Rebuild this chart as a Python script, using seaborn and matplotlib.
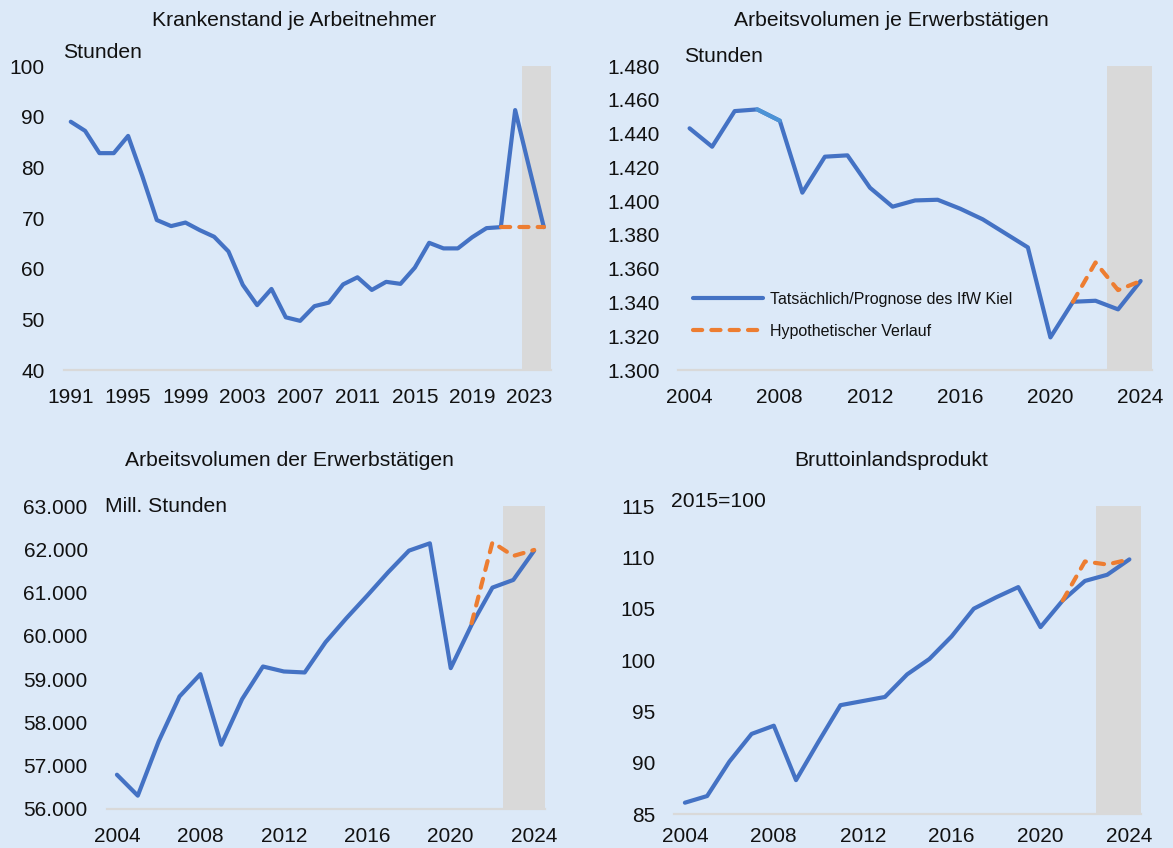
import numpy as np
import pandas as pd
import matplotlib
matplotlib.use("Agg")
import matplotlib.pyplot as plt
import seaborn as sns
from matplotlib.ticker import FuncFormatter

# ---------------- data ----------------
years_kr = list(range(1991, 2025))
krankenstand = [89.0, 87.2, 82.8, 82.8, 86.2, 78.2, 69.6, 68.4, 69.1, 67.6,
                66.3, 63.4, 56.8, 52.8, 56.0, 50.4, 49.7, 52.6, 53.3, 56.9,
                58.3, 55.8, 57.4, 57.0, 60.2, 65.1, 64.0, 64.0, 66.2, 68.0,
                68.2, 91.3, 79.7, 68.2]
hyp_years = [2021, 2022, 2023, 2024]
krankenstand_hyp = [68.2, 68.2, 68.2, 68.2]

years = list(range(2004, 2025))
av_je_erw = [1443.1, 1432.2, 1453.3, 1454.3, 1447.6, 1405.0, 1426.3, 1427.1,
             1407.9, 1396.7, 1400.4, 1400.8, 1395.5, 1389.2, 1380.9, 1372.6,
             1319.3, 1340.4, 1341.0, 1335.9, 1352.7]
av_je_erw_hyp = [1340.4, 1363.7, 1347.3, 1352.7]

av_gesamt = [56792, 56308, 57562, 58600, 59115, 57485, 58538, 59292, 59177,
             59154, 59854, 60408, 60931, 61469, 61969, 62138, 59254, 60254,
             61115, 61292, 61969]
av_gesamt_hyp = [60292, 62162, 61846, 61985]

bip = [86.1, 86.75, 90.1, 92.8, 93.6, 88.3, 92.0, 95.6, 96.0, 96.4, 98.6,
       100.1, 102.3, 105.0, 106.1, 107.1, 103.2, 105.8, 107.7, 108.3, 109.8]
bip_hyp = [105.8, 109.6, 109.3, 109.8]

titles = ["Krankenstand je Arbeitnehmer", "Arbeitsvolumen je Erwerbstätigen",
          "Arbeitsvolumen der Erwerbstätigen", "Bruttoinlandsprodukt"]
units = ["Stunden", "Stunden", "Mill. Stunden", "2015=100"]
legend_labels = ["Tatsächlich/Prognose des IfW Kiel", "Hypothetischer Verlauf"]
band = (2022.5, 2024.5)

# ---------------- style ----------------
sns.set_theme(style="white")
BG = "#DCE9F8"
BLUE = "#4472C4"
LIGHTBLUE = "#4C93D6"
ORANGE = "#ED7D31"
GREY = "#D9D9D9"
plt.rcParams["font.family"] = ["Liberation Sans", "DejaVu Sans"]
plt.rcParams["text.color"] = "#111111"

W, H = 1173, 848
fig = plt.figure(figsize=(W / 100, H / 100), dpi=100)
fig.patch.set_facecolor(BG)


def add_ax(left, right, top, bottom):
    return fig.add_axes([left / W, 1 - bottom / H, (right - left) / W, (bottom - top) / H])


def thousands(v, pos):
    return f"{int(round(v)):,}".replace(",", ".")


def style_ax(ax, x0, x1, ylim, yticks, xticks, fmt=None, xpad=13):
    ax.set_facecolor(BG)
    ax.axvspan(band[0], band[1], color=GREY, lw=0, zorder=0)
    ax.set_xlim(x0 - 0.5, x1 + 0.5)
    ax.set_ylim(*ylim)
    ax.set_yticks(yticks)
    ax.set_xticks(xticks)
    if fmt is not None:
        ax.yaxis.set_major_formatter(FuncFormatter(fmt))
    for s in ["top", "right", "left"]:
        ax.spines[s].set_visible(False)
    ax.spines["bottom"].set_color(GREY)
    ax.spines["bottom"].set_linewidth(1.6)
    ax.spines["bottom"].set_zorder(0.5)
    ax.tick_params(axis="both", length=0, labelsize=15, colors="#111111")
    ax.tick_params(axis="y", pad=13.5)
    ax.tick_params(axis="x", pad=xpad)
    ax.set_xlabel("")
    ax.set_ylabel("")
    ax.grid(False)


def draw(ax, xs, ys, hx, hy, label=True):
    sns.lineplot(x=xs, y=ys, ax=ax, color=BLUE, lw=3.0,
                 label=legend_labels[0] if label else None, zorder=3)
    ax.lines[-1].set_solid_capstyle("round")
    sns.lineplot(x=hx, y=hy, ax=ax, color=ORANGE, lw=3.0,
                 label=legend_labels[1] if label else None, zorder=4)
    ln = ax.lines[-1]
    ln.set_dashes((2.2, 2.2))
    ln.set_dash_capstyle("round")


# Panel 1
ax1 = add_ax(63.6, 551, 66, 370)
draw(ax1, years_kr, krankenstand, hyp_years, krankenstand_hyp, label=False)
style_ax(ax1, 1991, 2024, (40, 100), range(40, 101, 10), range(1991, 2024, 4))

# Panel 2
ax2 = add_ax(678.3, 1151.9, 66, 370)
draw(ax2, years, av_je_erw, hyp_years, av_je_erw_hyp, label=True)
sns.lineplot(x=years[3:5], y=av_je_erw[3:5], ax=ax2, color=LIGHTBLUE, lw=3.0, zorder=3.5)
style_ax(ax2, 2004, 2024, (1300, 1480), range(1300, 1481, 20), range(2004, 2025, 4), thousands)
leg = ax2.legend(loc="upper left", bbox_to_anchor=(693 / W, 1 - 292 / H),
                 bbox_transform=fig.transFigure, frameon=False, fontsize=11.5,
                 handlelength=4.4, handletextpad=0.4, labelspacing=1.05,
                 borderaxespad=0, borderpad=0)
for h in leg.get_lines():
    h.set_linewidth(3.0)
leg.get_lines()[1].set_dashes((2.2, 2.2))
leg.get_lines()[1].set_dash_capstyle("round")

# Panel 3
ax3 = add_ax(106.5, 544.6, 506, 809)
draw(ax3, years, av_gesamt, hyp_years, av_gesamt_hyp, label=False)
style_ax(ax3, 2004, 2024, (56000, 63000), range(56000, 63001, 1000), range(2004, 2025, 4), thousands)

# Panel 4
ax4 = add_ax(673.8, 1140.5, 506, 814)
draw(ax4, years, bip, hyp_years, bip_hyp, label=False)
style_ax(ax4, 2004, 2024, (85, 115), range(85, 116, 5), range(2004, 2025, 4), xpad=9.5)

for ax in (ax1, ax3, ax4):
    if ax.get_legend() is not None:
        ax.get_legend().remove()

# titles and unit labels
title_pos = [(294.5, 20.7), (891.5, 20.7), (289, 460.7), (891, 460.7)]
unit_pos = [(63, 52), (684, 57), (105, 507), (671.5, 502)]
for t, (x, y) in zip(titles, title_pos):
    fig.text(x / W, 1 - y / H, t, ha="center", va="center", fontsize=15.2)
for u, (x, y) in zip(units, unit_pos):
    fig.text(x / W, 1 - y / H, u, ha="left", va="center", fontsize=15.2)

fig.savefig("out.png", dpi=100, facecolor=BG)
